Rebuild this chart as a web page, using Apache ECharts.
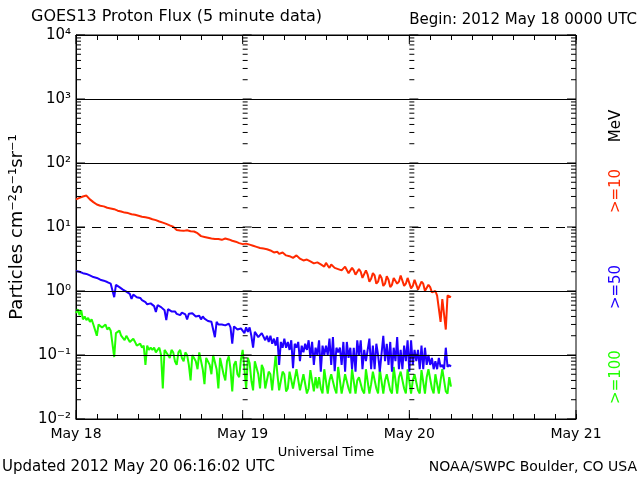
<!DOCTYPE html>
<html><head><meta charset="utf-8">
<script src="https://cdn.jsdelivr.net/npm/echarts@6/dist/echarts.min.js"></script>
<style>html,body{margin:0;padding:0;background:#fff}#c{width:640px;height:480px}</style>
</head><body><div id="c"></div>
<script>
// ---- data (hours since 2012 May 18 00:00 UTC, 15-min samples) ----
const dayLabels = ['May 18', 'May 19', 'May 20', 'May 21'];
const yTickLabels = { '-2': '10⁻²', '-1': '10⁻¹', '0': '10⁰', '1': '10¹', '2': '10²', '3': '10³', '4': '10⁴' };
const sampleStepHours = 0.25;
const flux10 = [
  27, 28, 28.5, 29.5, 30, 30.5, 31, 30, 27, 25.5, 24.5, 23.5, 22.5, 22, 21.5, 21,
  21, 20.5, 20, 20.2, 19.5, 19.8, 19, 18.6, 18, 18.3, 17.5, 17.8, 16.8, 17.2, 16.5, 16.3,
  15.8, 16.2, 15.5, 15.7, 15, 15.3, 14.5, 14.8, 14.2, 14.5, 13.8, 14, 13.2, 13.5, 12.8, 13,
  12.2, 12.5, 11.7, 12, 11.2, 11.4, 10.6, 10.8, 10.1, 9.4, 9.0, 8.7, 8.8, 9.1, 8.7, 8.9,
  8.9, 9.2, 8.6, 8.8, 8.5, 8.3, 8.0, 7.6, 7.2, 7.1, 7.0, 7.2, 6.8, 6.9, 6.6, 6.8,
  6.5, 6.7, 6.5, 6.3, 6.3, 6.6, 6.6, 6.4, 6.4, 6.2, 6.1, 5.9, 5.9, 5.8, 5.6, 5.5,
  5.4, 5.7, 5.5, 5.3, 5.3, 5.0, 5.1, 4.9, 4.9, 4.8, 4.7, 4.8, 4.6, 4.4, 4.5, 4.2,
  4.3, 4.1, 4.0, 4.2, 4.1, 3.8, 3.9, 4.0, 3.8, 3.6, 3.7, 3.5, 3.65, 3.3, 3.5, 3.6,
  3.4, 3.2, 3.3, 3.0, 3.2, 3.1, 3.1, 2.9, 3.0, 2.7, 2.9, 2.8, 2.8, 2.6, 2.7, 2.4,
  2.75, 2.5, 2.3, 2.6, 2.6, 2.3, 2.4, 2.2, 2.35, 2.1, 2.2, 2.4, 2.3, 1.9, 2.0, 2.3,
  2.1, 1.8, 1.9, 2.2, 2.0, 1.6, 1.7, 2.1, 1.8, 1.4, 1.55, 1.9, 1.75, 1.3, 1.4, 1.8,
  1.6, 1.2, 1.3, 1.7, 1.5, 1.15, 1.25, 1.6, 1.6, 1.3, 1.4, 1.75, 1.65, 1.2, 1.3, 1.6,
  1.55, 1.1, 1.2, 1.5, 1.45, 1.05, 1.1, 1.4, 1.3, 1.0, 1.05, 1.25, 1.15, 0.95, 0.95, 1.0,
  0.85, 0.8, 0.33, 0.75, 0.75, 0.25, 0.85, 0.8, 0.8
];
const flux50 = [
  2.05, 2.1, 2.0, 1.95, 1.9, 1.95, 1.85, 1.8, 1.75, 1.7, 1.65, 1.68, 1.6, 1.55, 1.5, 1.52,
  1.45, 1.4, 1.38, 1.35, 1.3, 1.32, 0.8, 1.25, 1.2, 1.15, 1.1, 1.05, 1.0, 0.98, 0.95, 0.9,
  0.75, 0.88, 0.85, 0.8, 0.75, 0.78, 0.72, 0.7, 0.67, 0.62, 0.6, 0.64, 0.66, 0.58, 0.47, 0.6,
  0.6, 0.56, 0.55, 0.5, 0.35, 0.52, 0.5, 0.48, 0.46, 0.48, 0.44, 0.47, 0.42, 0.46, 0.45, 0.43,
  0.36, 0.44, 0.42, 0.45, 0.42, 0.4, 0.38, 0.41, 0.36, 0.4, 0.37, 0.39, 0.34, 0.36, 0.33, 0.35,
  0.19, 0.33, 0.3, 0.32, 0.3, 0.28, 0.29, 0.31, 0.31, 0.27, 0.15, 0.28, 0.27, 0.25, 0.24, 0.26,
  0.26, 0.22, 0.27, 0.23, 0.27, 0.2, 0.13, 0.23, 0.23, 0.19, 0.2, 0.22, 0.21, 0.17, 0.2, 0.16,
  0.2, 0.15, 0.18, 0.14, 0.19, 0.07, 0.16, 0.13, 0.18, 0.13, 0.16, 0.12, 0.17, 0.062, 0.15, 0.13,
  0.16, 0.08, 0.14, 0.11, 0.15, 0.12, 0.17, 0.09, 0.16, 0.07, 0.13, 0.1, 0.17, 0.055, 0.14, 0.1,
  0.14, 0.1, 0.18, 0.07, 0.19, 0.056, 0.13, 0.11, 0.13, 0.07, 0.16, 0.055, 0.16, 0.09, 0.13, 0.06,
  0.13, 0.055, 0.17, 0.1, 0.17, 0.06, 0.12, 0.08, 0.12, 0.18, 0.06, 0.14, 0.06, 0.15, 0.1, 0.055,
  0.055, 0.2, 0.08, 0.15, 0.07, 0.16, 0.055, 0.13, 0.08, 0.19, 0.06, 0.12, 0.06, 0.14, 0.08, 0.17,
  0.055, 0.17, 0.07, 0.12, 0.08, 0.12, 0.06, 0.14, 0.06, 0.13, 0.07, 0.1, 0.07, 0.09, 0.06, 0.08,
  0.06, 0.09, 0.065, 0.07, 0.06, 0.13, 0.065, 0.07, 0.066
];
const flux100 = [
  0.45, 0.52, 0.42, 0.5, 0.36, 0.4, 0.35, 0.38, 0.33, 0.36, 0.3, 0.32, 0.2, 0.3, 0.31, 0.27,
  0.26, 0.3, 0.25, 0.27, 0.24, 0.25, 0.093, 0.22, 0.22, 0.24, 0.2, 0.21, 0.17, 0.2, 0.19, 0.16,
  0.15, 0.18, 0.16, 0.14, 0.14, 0.15, 0.13, 0.14, 0.07, 0.14, 0.12, 0.13, 0.12, 0.13, 0.11, 0.12,
  0.13, 0.1, 0.03, 0.12, 0.12, 0.1, 0.09, 0.12, 0.11, 0.08, 0.07, 0.11, 0.12, 0.09, 0.08, 0.11,
  0.1, 0.07, 0.04, 0.1, 0.1, 0.08, 0.06, 0.11, 0.11, 0.06, 0.035, 0.09, 0.09, 0.07, 0.05, 0.1,
  0.1, 0.06, 0.03, 0.09, 0.09, 0.05, 0.04, 0.08, 0.095, 0.06, 0.027, 0.07, 0.08, 0.05, 0.045, 0.085,
  0.12, 0.06, 0.03, 0.09, 0.075, 0.04, 0.028, 0.08, 0.08, 0.05, 0.03, 0.07, 0.06, 0.03, 0.028, 0.055,
  0.05, 0.028, 0.03, 0.1, 0.05, 0.028, 0.027, 0.055, 0.05, 0.027, 0.03, 0.055, 0.055, 0.03, 0.028, 0.06,
  0.06, 0.028, 0.03, 0.05, 0.05, 0.025, 0.03, 0.058, 0.058, 0.027, 0.045, 0.03, 0.045, 0.03, 0.025, 0.06,
  0.06, 0.025, 0.04, 0.05, 0.05, 0.03, 0.025, 0.065, 0.065, 0.025, 0.035, 0.05, 0.05, 0.03, 0.025, 0.06,
  0.06, 0.025, 0.04, 0.045, 0.045, 0.028, 0.025, 0.06, 0.06, 0.025, 0.035, 0.055, 0.055, 0.03, 0.025, 0.06,
  0.06, 0.025, 0.04, 0.05, 0.05, 0.028, 0.025, 0.065, 0.065, 0.025, 0.045, 0.055, 0.055, 0.03, 0.025, 0.06,
  0.06, 0.025, 0.04, 0.05, 0.05, 0.028, 0.025, 0.058, 0.058, 0.025, 0.045, 0.06, 0.06, 0.03, 0.025, 0.05,
  0.05, 0.025, 0.04, 0.06, 0.06, 0.027, 0.025, 0.045, 0.032
];
const gridLevelsSolid = [1000, 100, 1, 0.1];
const gridLevelsDashed = [10];
const minorMultipliers = [1, 2, 3, 4, 5, 6, 7, 8, 9];
const decadeExponents = [-2, -1, 0, 1, 2, 3];
const ladderHours = [0, 24, 48, 72];
const dayHours = [0, 24, 48, 72];

const FONT = 'DejaVu Sans';
const RED = '#ff2a00', BLUE = '#2000ff', GREEN = '#20ff00';

function pairs(arr) { return arr.map((v, i) => [i * sampleStepHours, v]); }

// tick-mark positions (ladders along the log scale)
const ladderData = [];
ladderHours.forEach(h => {
  decadeExponents.forEach(e => minorMultipliers.forEach(m => ladderData.push([h, m * Math.pow(10, e)])));
  ladderData.push([h, 10000]);
});
const dayTickData = [];
dayHours.forEach(h => { dayTickData.push([h, 0.01, 0]); dayTickData.push([h, 10000, 1]); });

const chart = echarts.init(document.getElementById('c'), null, { renderer: 'canvas' });
chart.setOption({
  animation: false,
  backgroundColor: '#fff',
  textStyle: { fontFamily: FONT },
  grid: { left: 72, right: 64, top: 35, bottom: 61, show: true, borderColor: '#000', borderWidth: 1, backgroundColor: 'transparent' },
  xAxis: [{
    type: 'value', min: 0, max: 72, interval: 3, position: 'bottom',
    axisLine: { show: true, lineStyle: { color: '#000', width: 1 } },
    axisTick: { show: true, inside: true, length: 5, lineStyle: { color: '#000' } },
    axisLabel: { color: '#000', fontSize: 14, fontFamily: FONT, margin: 8,
      formatter: v => (v % 24 === 0 ? dayLabels[v / 24] : '') },
    splitLine: { show: false },
    name: 'Universal Time', nameLocation: 'middle', nameGap: 26,
    nameTextStyle: { color: '#000', fontSize: 13, fontFamily: FONT }
  }, {
    type: 'value', min: 0, max: 72, interval: 3, position: 'top',
    axisLine: { show: true, lineStyle: { color: '#000', width: 1 } },
    axisTick: { show: true, inside: true, length: 5, lineStyle: { color: '#000' } },
    axisLabel: { show: false }, splitLine: { show: false }
  }],
  yAxis: [{
    type: 'log', logBase: 10, min: 0.01, max: 10000,
    axisLine: { show: true, lineStyle: { color: '#000', width: 1 } },
    axisTick: { show: false },
    axisLabel: { color: '#000', fontSize: 15, fontFamily: FONT, margin: 5,
      formatter: v => yTickLabels[String(Math.round(Math.log10(v)))] || '' },
    splitLine: { show: false },
    name: 'Particles cm⁻²s⁻¹sr⁻¹', nameLocation: 'middle', nameRotate: 90, nameGap: 50,
    nameTextStyle: { color: '#000', fontSize: 18, fontFamily: FONT }
  }],
  series: [
    {
      type: 'custom', name: 'ladders', xAxisIndex: 0, yAxisIndex: 0, silent: true, clip: false, z: 5,
      data: ladderData,
      renderItem: function (params, api) {
        const h = api.value(0), v = api.value(1);
        const p = api.coord([h, v]);
        const ex = Math.log10(v);
        const major = Math.abs(ex - Math.round(ex)) < 1e-6;
        const dir = h >= 72 ? -1 : 1;
        const len = major ? 9 : 5;
        return { type: 'line', shape: { x1: p[0], y1: p[1], x2: p[0] + dir * len, y2: p[1] },
          style: { stroke: '#000', lineWidth: 1 } };
      }
    },
    {
      type: 'custom', name: 'dayTicks', xAxisIndex: 0, yAxisIndex: 0, silent: true, clip: false, z: 5,
      data: dayTickData,
      renderItem: function (params, api) {
        const p = api.coord([api.value(0), api.value(1)]);
        const dir = api.value(2) === 0 ? -1 : 1;
        return { type: 'line', shape: { x1: p[0], y1: p[1], x2: p[0], y2: p[1] + dir * 9 },
          style: { stroke: '#000', lineWidth: 1 } };
      }
    },
    {
      type: 'line', name: '>=100', data: pairs(flux100), showSymbol: false, symbol: 'none',
      lineStyle: { color: GREEN, width: 2 }, itemStyle: { color: GREEN }, z: 3
    },
    {
      type: 'line', name: '>=50', data: pairs(flux50), showSymbol: false, symbol: 'none',
      lineStyle: { color: BLUE, width: 2 }, itemStyle: { color: BLUE }, z: 3
    },
    {
      type: 'line', name: '>=10', data: pairs(flux10), showSymbol: false, symbol: 'none',
      lineStyle: { color: RED, width: 2 }, itemStyle: { color: RED }, z: 3,
      markLine: {
        silent: true, symbol: 'none', label: { show: false },
        data: gridLevelsSolid.map(v => ({ yAxis: v, lineStyle: { color: '#000', width: 1, type: 'solid' } }))
          .concat(gridLevelsDashed.map(v => ({ yAxis: v, lineStyle: { color: '#000', width: 1, type: [9, 7] } })))
      }
    }
  ],
  graphic: [
    { type: 'text', left: 31, top: 9, style: { text: 'GOES13 Proton Flux (5 minute data)', font: '16px "' + FONT + '"', fill: '#000' } },
    { type: 'text', right: 3, top: 13, style: { text: 'Begin: 2012 May 18 0000 UTC', font: '15px "' + FONT + '"', fill: '#000' } },
    { type: 'text', left: 2, top: 460, style: { text: 'Updated 2012 May 20 06:16:02 UTC', font: '15px "' + FONT + '"', fill: '#000' } },
    { type: 'text', right: 3, top: 460, style: { text: 'NOAA/SWPC Boulder, CO USA', font: '14px "' + FONT + '"', fill: '#000' } },
    { type: 'text', x: 616, y: 126, rotation: Math.PI / 2, style: { text: 'MeV', font: '15px "' + FONT + '"', fill: '#000', align: 'center', verticalAlign: 'middle' } },
    { type: 'text', x: 616, y: 191, rotation: Math.PI / 2, style: { text: '>=10', font: '15px "' + FONT + '"', fill: RED, align: 'center', verticalAlign: 'middle' } },
    { type: 'text', x: 616, y: 287, rotation: Math.PI / 2, style: { text: '>=50', font: '15px "' + FONT + '"', fill: BLUE, align: 'center', verticalAlign: 'middle' } },
    { type: 'text', x: 616, y: 377, rotation: Math.PI / 2, style: { text: '>=100', font: '15px "' + FONT + '"', fill: GREEN, align: 'center', verticalAlign: 'middle' } }
  ]
});
</script></body></html>
